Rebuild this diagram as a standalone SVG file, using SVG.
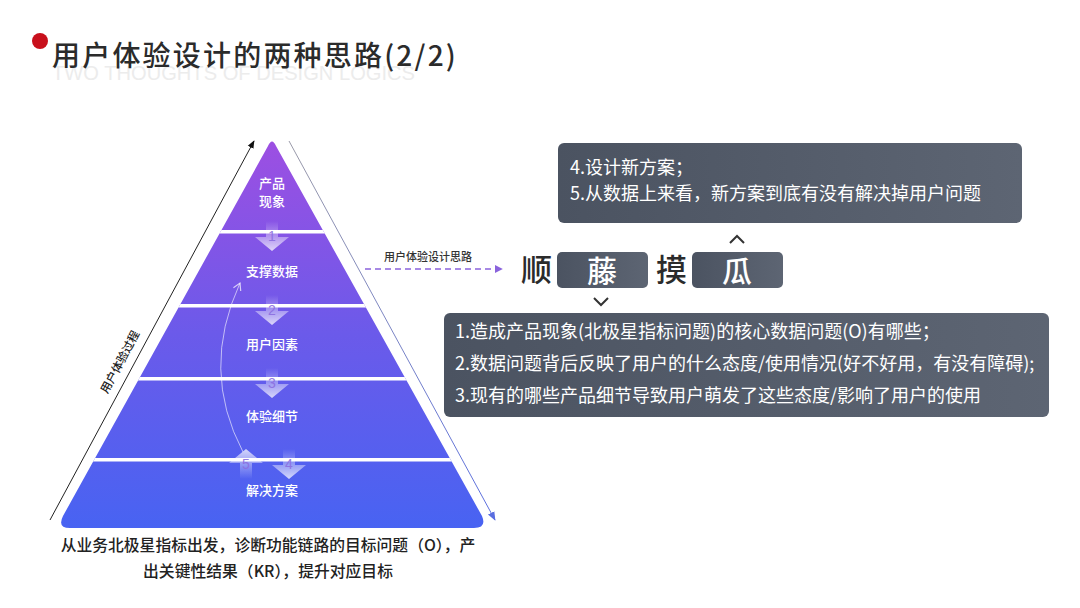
<svg xmlns="http://www.w3.org/2000/svg" width="1080" height="608" viewBox="0 0 1080 608">
<style>
.cn{font-family:"Noto Sans CJK SC","Noto Sans",sans-serif;}
.tier{font-size:13px;font-weight:500;fill:#fff;text-anchor:middle;}
.num{font-family:"Liberation Sans",sans-serif;font-size:14px;fill:#8c6fe0;text-anchor:middle;opacity:0.9;}
.box{font-size:18px;fill:#fff;}
.big{font-size:31px;font-weight:500;fill:#2b2b2b;}
.boxc{font-size:30px;font-weight:500;fill:#fff;text-anchor:middle;}
.cap{font-size:15.8px;font-weight:500;fill:#222;text-anchor:middle;}
.chev{fill:none;stroke:#333;stroke-width:2;}
</style>
<defs>
<linearGradient id="pyr" gradientUnits="userSpaceOnUse" x1="0" y1="140" x2="0" y2="528">
<stop offset="0" stop-color="#9d4fe2"/>
<stop offset="0.5" stop-color="#6b5aea"/>
<stop offset="1" stop-color="#4863f2"/>
</linearGradient>
<linearGradient id="dark" x1="0" y1="0" x2="1" y2="0">
<stop offset="0" stop-color="#4b5361"/>
<stop offset="1" stop-color="#5d6573"/>
</linearGradient>
<linearGradient id="down" x1="0" y1="0" x2="0" y2="1">
<stop offset="0" stop-color="#fff" stop-opacity="0"/>
<stop offset="1" stop-color="#fff" stop-opacity="0.75"/>
</linearGradient>
<linearGradient id="up" x1="0" y1="1" x2="0" y2="0">
<stop offset="0" stop-color="#fff" stop-opacity="0"/>
<stop offset="1" stop-color="#fff" stop-opacity="0.75"/>
</linearGradient>
<linearGradient id="rline" gradientUnits="userSpaceOnUse" x1="289" y1="141" x2="495" y2="520">
<stop offset="0" stop-color="#9a9aa8"/>
<stop offset="1" stop-color="#5a6ee0"/>
</linearGradient>
<clipPath id="pclip">
<path d="M268,146 Q272,137 276,146 L482,516 Q487,528 474,528 L70,528 Q57,528 63,516 Z"/>
</clipPath>
<marker id="ablack" viewBox="0 0 10 10" refX="9" refY="5" markerWidth="8" markerHeight="8" orient="auto">
<path d="M0,1 L10,5 L0,9 Z" fill="#111"/>
</marker>
<marker id="ablue" viewBox="0 0 10 10" refX="9" refY="5" markerWidth="9" markerHeight="9" orient="auto">
<path d="M0,1 L10,5 L0,9 Z" fill="#5a6ee0"/>
</marker>
<marker id="apurple" viewBox="0 0 10 10" refX="9" refY="5" markerWidth="8" markerHeight="8" orient="auto" markerUnits="userSpaceOnUse">
<path d="M0,0 L10,5 L0,10 Z" fill="#8a63dc"/>
</marker>
<marker id="awhite" viewBox="0 0 10 10" refX="8" refY="5" markerWidth="10" markerHeight="10" orient="auto" markerUnits="userSpaceOnUse">
<path d="M1,1 L8,5 L1,9" fill="none" stroke="#fff" stroke-opacity="0.7" stroke-width="1.2"/>
</marker>
</defs>
<rect width="1080" height="608" fill="#fff"/>

<g id="title">
<text x="52" y="80" font-family="Liberation Sans,sans-serif" font-size="21" fill="#ececec" textLength="363" lengthAdjust="spacingAndGlyphs">TWO THOUGHTS OF DESIGN LOGICS</text>
<circle cx="40" cy="41" r="8" fill="#c8101c"/>
<text class="cn" x="52" y="66" font-size="28" font-weight="500" fill="#2b2b2b" letter-spacing="2.2">用户体验设计的两种思路(2/2)</text>
</g>

<g id="pyramid">
<path d="M268,146 Q272,137 276,146 L482,516 Q487,528 474,528 L70,528 Q57,528 63,516 Z" fill="url(#pyr)"/>
<g clip-path="url(#pclip)" fill="#fff">
<rect x="0" y="230" width="600" height="3.5"/>
<rect x="0" y="304" width="600" height="3.5"/>
<rect x="0" y="377" width="600" height="3.5"/>
<rect x="0" y="458" width="600" height="3.5"/>
</g>
</g>

<g id="tier-labels" class="cn">
<text class="tier" x="272" y="188">产品</text>
<text class="tier" x="272" y="206">现象</text>
<text class="tier" x="272" y="276">支撑数据</text>
<text class="tier" x="272" y="349">用户因素</text>
<text class="tier" x="272" y="421">体验细节</text>
<text class="tier" x="272" y="495">解决方案</text>
</g>

<g id="step-arrows">
<path d="M266,221 h12 v16 h11 l-17,14 l-17,-14 h11 Z" fill="url(#down)"/>
<text class="num" x="272" y="241">1</text>
<path d="M266,295 h12 v16 h11 l-17,14 l-17,-14 h11 Z" fill="url(#down)"/>
<text class="num" x="272" y="315">2</text>
<path d="M266,368 h12 v16 h11 l-17,14 l-17,-14 h11 Z" fill="url(#down)"/>
<text class="num" x="272" y="388">3</text>
<path d="M283,449 h12 v16 h11 l-17,14 l-17,-14 h11 Z" fill="url(#down)"/>
<text class="num" x="289" y="469">4</text>
<path d="M240,479 h12 v-16 h11 l-17,-14 l-17,14 h11 Z" fill="url(#up)"/>
<text class="num" x="246" y="469">5</text>
</g>

<g id="connectors">
<path d="M243,452 Q200,370 240,283" fill="none" stroke="#fff" stroke-opacity="0.6" stroke-width="1" marker-end="url(#awhite)"/>
<line x1="50" y1="520" x2="254" y2="141" stroke="#222" stroke-width="1" marker-end="url(#ablack)"/>
<line x1="289" y1="141" x2="495" y2="520" stroke="url(#rline)" stroke-width="1" marker-end="url(#ablue)"/>
<line x1="365" y1="269" x2="502" y2="269" stroke="#8a63dc" stroke-width="1.5" stroke-dasharray="6 4" marker-end="url(#apurple)"/>
</g>

<g id="axis-labels" class="cn">
<text x="120" y="366" font-size="11.5" font-weight="500" fill="#222" text-anchor="middle" transform="rotate(-62 120 362)">用户体验过程</text>
<text x="428" y="261" font-size="11" font-weight="500" fill="#333" text-anchor="middle">用户体验设计思路</text>
</g>

<g id="idiom" class="cn">
<text class="big" x="521" y="281">顺</text>
<rect x="557" y="252" width="91" height="36" rx="5" fill="url(#dark)"/>
<text class="boxc" x="602" y="282">藤</text>
<text class="big" x="656" y="281">摸</text>
<rect x="692" y="252" width="91" height="36" rx="5" fill="url(#dark)"/>
<text class="boxc" x="737" y="282">瓜</text>
<polyline class="chev" points="730,243 737,236 744,243"/>
<polyline class="chev" points="594,298 601,305 608,298"/>
</g>

<g id="box-top" class="cn">
<rect x="558" y="143" width="464" height="80" rx="6" fill="url(#dark)"/>
<text class="box" x="570" y="174">4.设计新方案；</text>
<text class="box" x="570" y="200">5.从数据上来看，新方案到底有没有解决掉用户问题</text>
</g>

<g id="box-bottom" class="cn">
<rect x="444" y="313" width="605" height="104" rx="6" fill="url(#dark)"/>
<text class="box" x="455" y="338">1.造成产品现象(北极星指标问题)的核心数据问题(O)有哪些；</text>
<text class="box" x="455" y="370">2.数据问题背后反映了用户的什么态度/使用情况(好不好用，有没有障碍);</text>
<text class="box" x="455" y="402">3.现有的哪些产品细节导致用户萌发了这些态度/影响了用户的使用</text>
</g>

<g id="caption" class="cn">
<text class="cap" x="268" y="551">从业务北极星指标出发，诊断功能链路的目标问题（O），产</text>
<text class="cap" x="268" y="577">出关键性结果（KR），提升对应目标</text>
</g>
</svg>
